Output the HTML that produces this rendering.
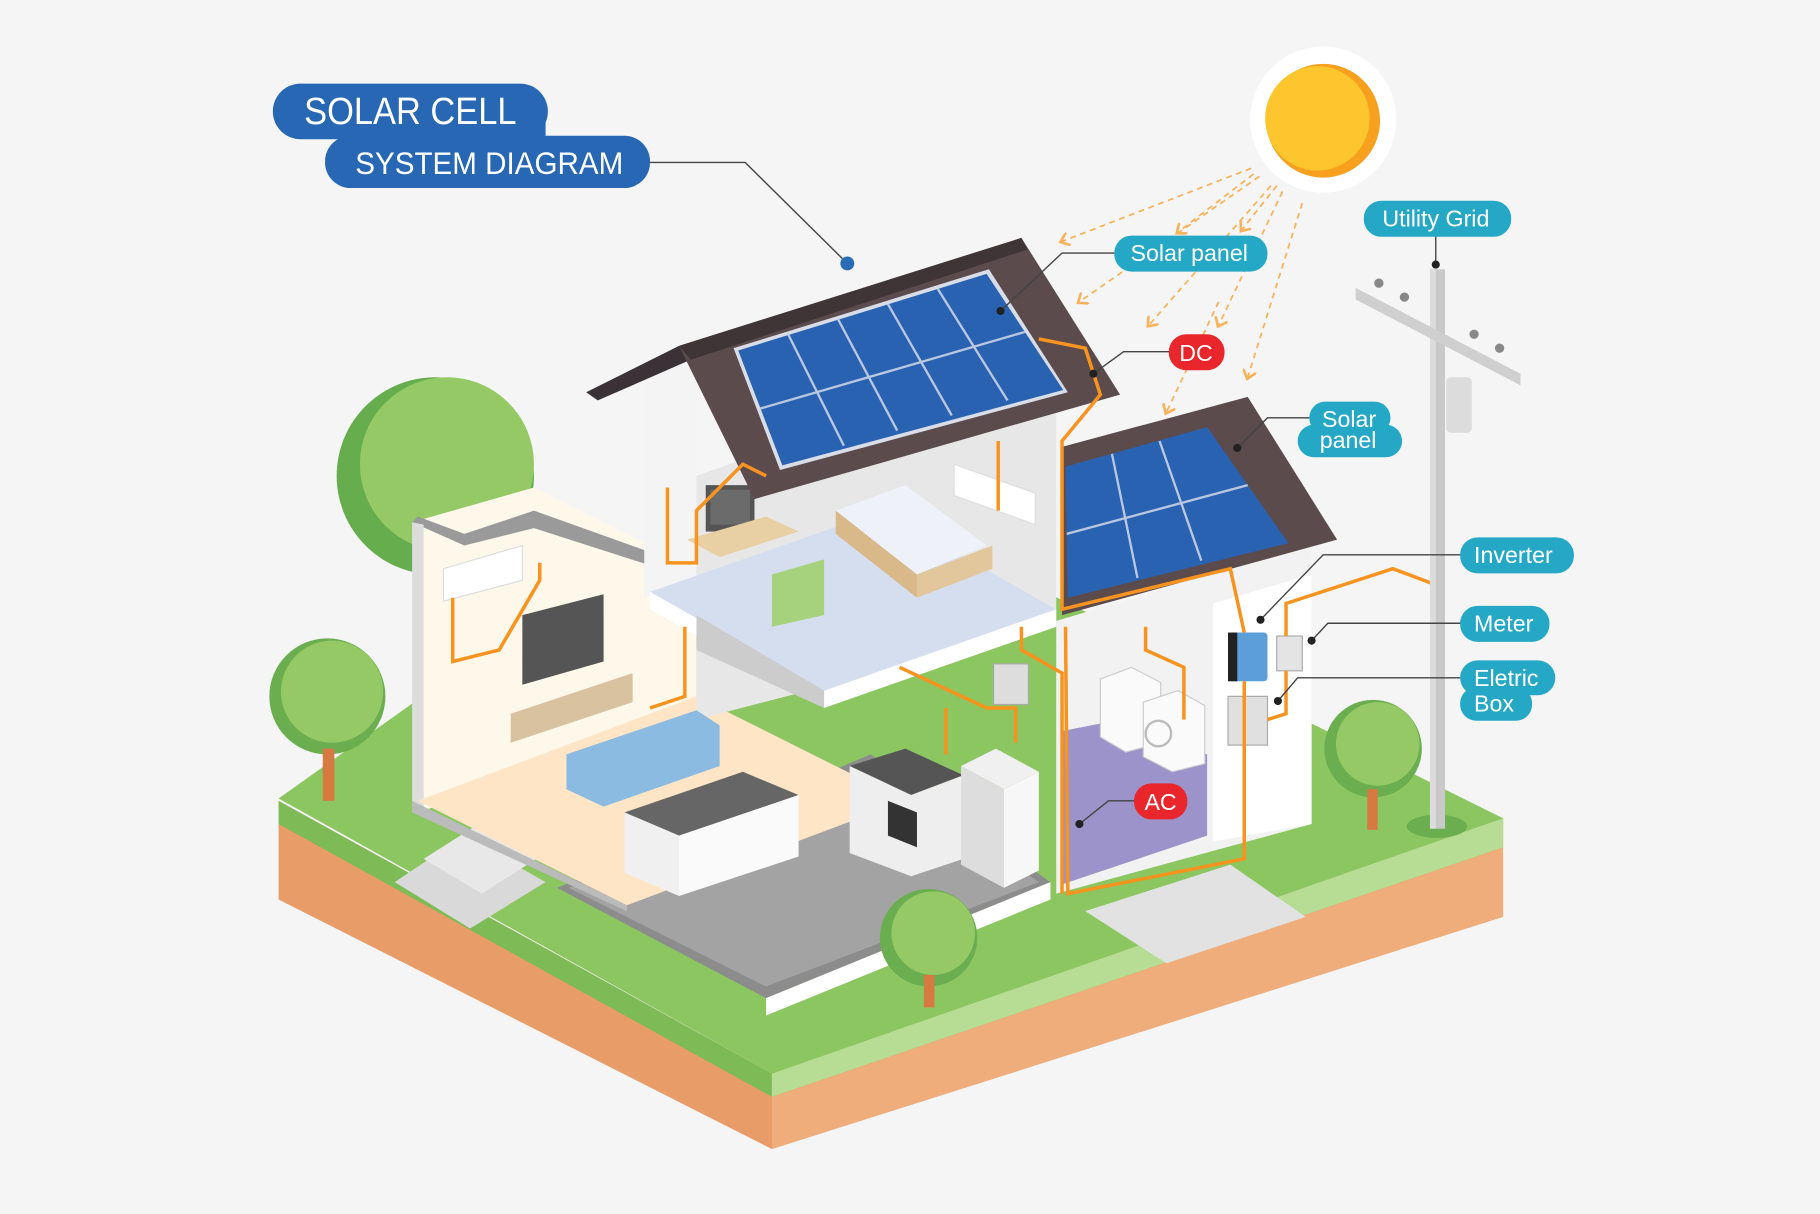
<!DOCTYPE html>
<html><head><meta charset="utf-8"><style>
html,body{margin:0;padding:0;background:#f5f5f5;}
svg{display:block;}
text{font-family:"Liberation Sans",sans-serif;}
</style></head><body>
<svg width="1820" height="1214" viewBox="0 0 1568 1046" xmlns="http://www.w3.org/2000/svg">
<defs><marker id="ah" markerWidth="8" markerHeight="8" refX="4" refY="4" orient="auto"><path d="M0,0 L5,4 L0,8" fill="none" stroke="#f7b25a" stroke-width="1.5"/></marker></defs>
<rect width="1568" height="1046" fill="#f5f5f5"/>
<!-- soil -->
<polygon points="240,690 665,925 1295,705 1295,790 665,990 240,775" fill="#e89c68"/>
<polygon points="665,925 1295,705 1295,790 665,990" fill="#f0ad7c"/>
<polygon points="240,690 665,925 1295,705 1295,730 665,945 240,710" fill="#7cbb55"/>
<polygon points="665,925 1295,705 1295,730 665,945" fill="#b7dc93"/>
<!-- grass top -->
<polygon points="240,688 420,560 840,480 1295,705 665,925" fill="#8cc661"/>
<!-- back trees -->
<circle cx="375" cy="410" r="85" fill="#66ad4e"/><circle cx="385" cy="400" r="75" fill="#95c965"/>
<!-- tile floor -->
<polygon points="480,765 750,650 905,760 660,860" fill="#8c8c8c"/>
<polygon points="490,765 750,660 895,760 660,850" fill="#a3a3a3"/>
<polygon points="660,860 905,760 905,775 660,875" fill="#fff"/>
<!-- path -->
<polygon points="935,785 1060,745 1125,790 1005,830" fill="#e2e2e2"/>
<!-- stairs -->
<polygon points="340,760 400,720 470,760 405,800" fill="#d9d9d9"/>
<polygon points="365,740 420,705 470,735 415,770" fill="#e8e8e8"/>
<!-- left wing walls -->
<polygon points="355,450 460,420 600,490 600,620 360,700" fill="#fdf8ea"/>
<polygon points="355,450 400,470 460,455 600,500 600,490 460,440 400,460 360,445" fill="#9a9a9a"/>
<polygon points="355,450 365,452 365,700 355,700" fill="#ddd"/>
<polygon points="360,690 600,600 780,690 540,780" fill="#fde5c6"/>
<polygon points="355,690 540,780 540,785 355,700" fill="#bbb"/>
<!-- upper floor back walls -->
<polygon points="555,320 600,305 600,500 555,515" fill="#f4f4f4"/>
<polygon points="600,410 910,300 910,540 600,620" fill="#e7e7e7"/>
<!-- bedroom floor -->
<polygon points="560,510 760,440 910,525 710,595" fill="#d5deee"/>
<polygon points="560,510 710,595 910,525 910,540 710,610 560,525" fill="#fff"/>
<polygon points="600,530 710,595 710,610 600,560" fill="#ccc"/>
<!-- bed -->
<polygon points="720,440 780,418 850,470 790,495" fill="#eef2f8"/>
<polygon points="720,440 790,495 790,515 720,460" fill="#d9b98a"/>
<polygon points="790,495 855,470 855,490 790,515" fill="#e3c79c"/>
<!-- desk, tv -->
<rect x="608" y="418" width="42" height="40" fill="#555"/><rect x="612" y="422" width="34" height="30" fill="#6b6b6b"/>
<polygon points="592,465 660,445 688,458 620,480" fill="#e8cfa4"/>
<polygon points="665,495 710,482 710,530 665,540" fill="#a6d27d"/>
<!-- AC units -->
<polygon points="822,400 892,425 892,452 822,427" fill="#fff" stroke="#ddd"/>
<polygon points="382,490 450,470 450,500 382,518" fill="#fff" stroke="#ddd"/>
<!-- living room tv, sofa -->
<polygon points="450,530 520,512 520,570 450,590" fill="#555"/>
<polygon points="440,615 545,580 545,605 440,640" fill="#d9c2a0"/>
<polygon points="488,650 600,612 620,625 620,660 520,695 488,680" fill="#8bbbe0"/>
<!-- kitchen counter -->
<polygon points="538,700 640,665 688,685 585,720" fill="#666"/>
<polygon points="538,700 585,720 585,772 538,752" fill="#f0f0f0"/>
<polygon points="585,720 688,685 688,738 585,772" fill="#fafafa"/>
<polygon points="732,660 780,645 830,668 785,685" fill="#555"/>
<polygon points="732,660 785,685 830,668 830,740 785,755 732,735" fill="#eee"/>
<polygon points="765,690 790,700 790,730 765,720" fill="#333"/>
<!-- fridge -->
<polygon points="828,660 858,645 895,665 865,680" fill="#f0f0f0"/>
<polygon points="828,660 865,680 865,765 828,745" fill="#ddd"/>
<polygon points="865,680 895,665 895,750 865,765" fill="#f7f7f7"/>
<rect x="856" y="572" width="30" height="35" fill="#ddd" stroke="#aaa"/>
<!-- right room -->
<polygon points="910,535 1130,470 1130,710 910,770" fill="#f2f2f2"/>
<polygon points="1045,520 1130,495 1130,710 1045,725" fill="#fff"/>
<polygon points="915,630 965,620 1040,650 1040,720 915,762" fill="#9b93ca"/>
<polygon points="948,585 975,575 1000,588 1000,640 970,648 948,635" fill="#fafafa" stroke="#ccc"/>
<polygon points="985,605 1015,595 1038,608 1038,658 1010,665 985,652" fill="#fafafa" stroke="#ccc"/>
<circle cx="998" cy="632" r="11" fill="none" stroke="#bbb" stroke-width="2"/>
<rect x="1058" y="545" width="34" height="42" rx="3" fill="#5b9ed8"/><rect x="1058" y="545" width="8" height="42" fill="#222"/>
<rect x="1100" y="548" width="22" height="30" fill="#e4e4e4" stroke="#aaa"/>
<rect x="1058" y="600" width="34" height="42" fill="#e0e0e0" stroke="#aaa"/>
<!-- main roof -->
<polygon points="505,338 585,298 595,310 515,345" fill="#3a3236"/>
<polygon points="585,298 880,205 965,340 650,430" fill="#5b4b4d"/>
<polygon points="585,298 880,205 885,215 595,310" fill="#3f3436"/>
<polygon points="632,300 852,232 920,338 672,405" fill="#d8dde8"/>
<polygon points="636,302 850,236 916,336 674,401" fill="#2a62b2"/>
<g stroke="#b9c8e0" stroke-width="2">
<line x1="679" y1="288" x2="727" y2="384"/><line x1="722" y1="275" x2="773" y2="371"/><line x1="765" y1="262" x2="820" y2="358"/><line x1="808" y1="249" x2="868" y2="345"/>
<line x1="655" y1="352" x2="883" y2="286"/>
</g>
<!-- right roof -->
<polygon points="915,385 1075,342 1152,465 915,530" fill="#5b4b4d"/>
<polygon points="918,402 1040,368 1110,468 920,515" fill="#2a62b2"/>
<g stroke="#b9c8e0" stroke-width="2">
<line x1="958" y1="391" x2="980" y2="498"/><line x1="999" y1="380" x2="1035" y2="483"/><line x1="919" y1="460" x2="1075" y2="418"/>
</g>
<!-- wires -->
<g fill="none" stroke="#f7931e" stroke-width="3">
<path d="M895,292 L935,300 L948,340 L915,380 L915,525 L1060,490 L1072,545"/>
<path d="M1072,587 L1072,740 L920,770 L918,540"/>
<path d="M1108,548 L1108,520 L1200,490 L1240,505 L1240,290"/>
<path d="M1108,578 L1108,615 L1092,620"/>
<path d="M860,380 L860,440"/><path d="M987,540 L987,560 L1020,575 L1020,620"/>
<path d="M880,540 L880,560 L915,580 L915,770"/>
<path d="M775,575 L850,610 L875,610 L875,640"/><path d="M815,610 L815,650"/>
<path d="M575,420 L575,485 L600,485 L600,440 L640,400 L660,410"/>
<path d="M390,515 L390,570 L430,560 L465,500 L465,485"/>
<path d="M590,540 L590,600 L560,610"/>
</g>
<!-- front trees -->
<circle cx="282" cy="600" r="50" fill="#6aae4f"/><circle cx="286" cy="596" r="44" fill="#95c965"/><rect x="278" y="645" width="10" height="45" fill="#d77a42"/>
<circle cx="800" cy="808" r="42" fill="#6aae4f"/><circle cx="804" cy="804" r="36" fill="#95c965"/><rect x="796" y="840" width="9" height="28" fill="#d77a42"/>
<circle cx="1183" cy="645" r="42" fill="#6aae4f"/><circle cx="1187" cy="641" r="36" fill="#95c965"/><rect x="1178" y="680" width="9" height="35" fill="#d77a42"/>
<!-- pole -->
<ellipse cx="1238" cy="712" rx="26" ry="10" fill="#6aae4f"/>
<rect x="1232" y="232" width="13" height="482" fill="#c9c9c9"/><rect x="1232" y="232" width="5" height="482" fill="#dcdcdc"/>
<polygon points="1168,248 1310,322 1310,332 1168,258" fill="#cfcfcf"/>
<rect x="1246" y="325" width="22" height="48" rx="4" fill="#dcdcdc"/>
<g fill="#888"><circle cx="1188" cy="244" r="4"/><circle cx="1210" cy="256" r="4"/><circle cx="1270" cy="288" r="4"/><circle cx="1292" cy="300" r="4"/></g>
<!-- sun -->
<circle cx="1140" cy="103" r="63" fill="#fff"/>
<circle cx="1140" cy="104" r="49" fill="#f7a01e"/>
<circle cx="1135" cy="102" r="45" fill="#fdc52e"/>
<!-- sun rays -->
<g stroke="#f7b25a" stroke-width="1.5" stroke-dasharray="5,4" fill="none" marker-end="url(#ah)">
<line x1="1078" y1="145" x2="915" y2="208"/><line x1="1085" y1="152" x2="930" y2="260"/><line x1="1095" y1="160" x2="990" y2="280"/><line x1="1105" y1="165" x2="1050" y2="280"/><line x1="1122" y1="175" x2="1075" y2="325"/><line x1="1050" y1="260" x2="1005" y2="355"/><line x1="1080" y1="150" x2="1015" y2="200"/><line x1="1100" y1="160" x2="1070" y2="198"/>
</g>
<!-- leader lines -->
<g stroke="#444" stroke-width="1.2" fill="none">
<path d="M560,140 L642,140 L730,227"/>
<path d="M962,218 L915,218 L862,268"/>
<path d="M1008,303 L968,303 L942,322"/>
<path d="M1128,360 L1092,360 L1066,386"/>
<path d="M1237,203 L1237,228"/>
<path d="M1260,478 L1140,478 L1086,534"/>
<path d="M1260,537 L1144,537 L1130,552"/>
<path d="M1260,584 L1118,584 L1101,604"/>
<path d="M978,690 L955,690 L930,710"/>
</g>
<g fill="#222"><circle cx="862" cy="268" r="3.5"/><circle cx="942" cy="322" r="3.5"/><circle cx="1066" cy="386" r="3.5"/><circle cx="1237" cy="228" r="3.5"/><circle cx="1086" cy="534" r="3.5"/><circle cx="1130" cy="552" r="3.5"/><circle cx="1101" cy="604" r="3.5"/><circle cx="930" cy="710" r="3.5"/></g>
<circle cx="730" cy="227" r="6" fill="#2a6db5"/>
<!-- title -->
<rect x="235" y="72" width="237" height="48" rx="24" fill="#2767b3"/>
<rect x="280" y="117" width="280" height="45" rx="22" fill="#2767b3"/>
<rect x="300" y="100" width="170" height="30" fill="#2767b3"/>
<text x="262" y="107" font-size="33" fill="#fff" textLength="183" lengthAdjust="spacingAndGlyphs">SOLAR CELL</text>
<text x="306" y="150" font-size="27" fill="#fff" textLength="231" lengthAdjust="spacingAndGlyphs">SYSTEM DIAGRAM</text>
<!-- labels -->
<g fill="#25a8c6">
<rect x="960" y="203" width="132" height="31" rx="15"/>
<rect x="1175" y="173" width="127" height="31" rx="15"/>
<rect x="1128" y="346" width="70" height="28" rx="14"/><rect x="1118" y="366" width="90" height="28" rx="14"/>
<rect x="1258" y="463" width="98" height="31" rx="15"/>
<rect x="1258" y="522" width="77" height="31" rx="15"/>
<rect x="1258" y="569" width="82" height="30" rx="15"/><rect x="1258" y="592" width="62" height="29" rx="14"/>
</g>
<g fill="#e8262b"><rect x="1007" y="288" width="48" height="31" rx="15"/><rect x="977" y="675" width="46" height="31" rx="15"/></g>
<g fill="#fff" font-size="20">
<text x="974" y="225">Solar panel</text>
<text x="1191" y="195">Utility Grid</text>
<text x="1139" y="368">Solar</text><text x="1137" y="386">panel</text>
<text x="1270" y="485">Inverter</text>
<text x="1270" y="544">Meter</text>
<text x="1270" y="591">Eletric</text><text x="1270" y="613">Box</text>
<text x="1016" y="311">DC</text><text x="986" y="698">AC</text>
</g>
</svg>
</body></html>
